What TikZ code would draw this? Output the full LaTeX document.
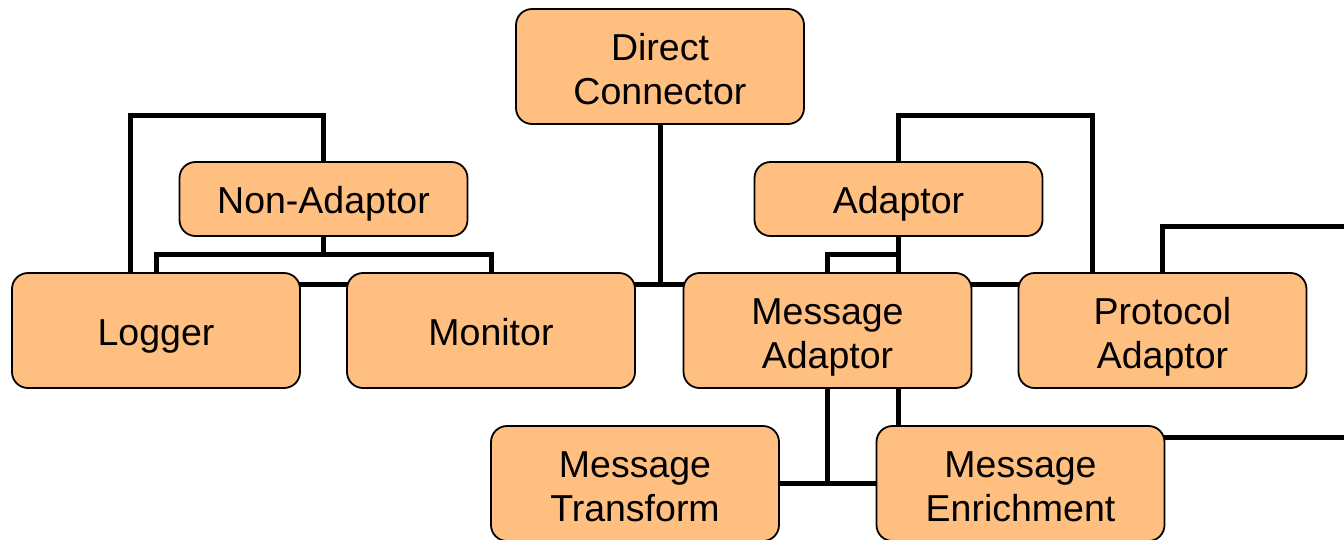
\documentclass[tikz,border=0pt]{standalone}
\usepackage{fontspec}
\setmainfont{Liberation Sans}
\usetikzlibrary{backgrounds}
\definecolor{boxfill}{HTML}{FFBF80}
\tikzset{
  box/.style={draw=black, line width=1.8pt, fill=boxfill, rounded corners=16pt,
    minimum width=288pt, minimum height=115pt, inner sep=0pt, align=center,
    font=\fontsize{37.5}{44}\selectfont, text height=77pt, text depth=2pt},
  onebox/.style={box, text height=29pt, text depth=0pt},
  smallbox/.style={onebox, minimum height=74pt},
  wire/.style={line width=5pt, line cap=rect, line join=miter}
}
\begin{document}
\begin{tikzpicture}[x=1pt,y=-1pt]
\useasboundingbox (0,0) rectangle (1344,539);
\node[box] (DC) at (660,66.5) {Direct\\Connector};
\node[smallbox] (NonA) at (323.5,199) {Non-Adaptor};
\node[smallbox] (Adaptor) at (898.5,199) {Adaptor};
\node[onebox] (Logger) at (156,330.5) {Logger};
\node[onebox] (Monitor) at (491,330.5) {Monitor};
\node[box] (MA) at (827.5,330.5) {Message\\Adaptor};
\node[box] (PA) at (1162.5,330.5) {Protocol\\Adaptor};
\node[box] (MT) at (635,483.5) {Message\\Transform};
\node[box] (ME) at (1020.5,483.5) {Message\\Enrichment};
\coordinate (ltop) at (200,115);
\coordinate (nb) at (323.5,254);
\coordinate (bus) at (0,284);
\coordinate (atop) at (1000,115);
\coordinate (ab) at (0,254);
\coordinate (edgeA) at (1344,226);
\coordinate (edgeB) at (1344,437);
\coordinate (x898) at (898.5,0);
\begin{scope}[on background layer]
\draw[wire] ([xshift=-26pt]Logger.north) |- (ltop) -| (NonA.north);
\draw[wire] (Logger.north) |- (nb) -| (Monitor.north);
\draw[wire] (NonA.south) -- (nb);
\draw[wire] (Logger.center |- bus) -- (PA.center |- bus);
\draw[wire] (DC.south) -- (DC.south |- bus);
\draw[wire] (Adaptor.north) |- (atop) -| ([xshift=-70.5pt]PA.north);
\draw[wire] (Adaptor.south) -- (Adaptor.south |- MA.north);
\draw[wire] (MA.north) |- (Adaptor.south |- ab);
\draw[wire] (PA.north) |- (edgeA);
\draw[wire] (MA.south) -- (MA.south |- MT.east);
\draw[wire] (MT.east) -- (ME.west);
\draw[wire] (x898 |- MA.south) -- (x898 |- ME.north);
\draw[wire] ([yshift=46.5pt]ME.east) -- (edgeB);
\end{scope}
\end{tikzpicture}
\end{document}
